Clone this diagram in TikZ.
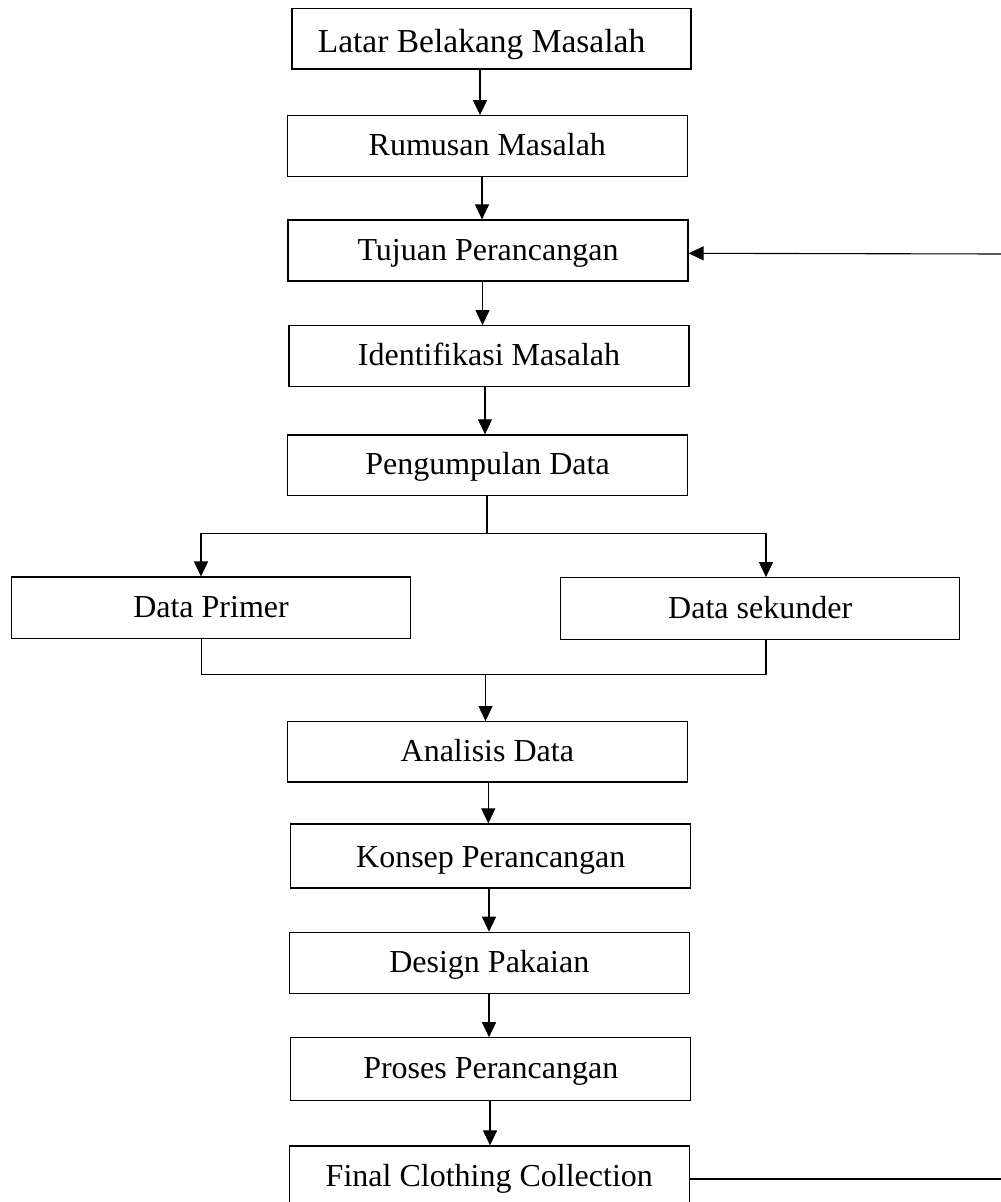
\documentclass[tikz,border=0pt]{standalone}
\usepackage{fontspec}
\setmainfont{Liberation Serif}
\usetikzlibrary{arrows.meta}
\begin{document}
\begin{tikzpicture}[x=1pt,y=-1pt,
  box/.style={draw=black, line width=1.2pt, rectangle, inner sep=0pt,
    minimum width=400pt, minimum height=61pt,
    font=\fontsize{32}{38}\selectfont, text height=27pt, text depth=8pt},
  conn/.style={draw=black, line width=1.1pt},
  arr/.style={conn, -{Triangle[length=15pt,width=14pt]}}]
\useasboundingbox (0,0) rectangle (1001,1202);

\node[box, minimum width=399pt, minimum height=60.7pt, font=\fontsize{33.5}{40}\selectfont, text height=36pt] (lat) at (491.5,38.7) {Latar Belakang Masalah\rule{20pt}{0pt}};
\node[box, minimum height=60.6pt] (rum) at (487.3,146) {Rumusan Masalah};
\node[box] (tuj) at (488,250.5) {Tujuan Perancangan};
\node[box] (ide) at (489,356.2) {Identifikasi Masalah};
\node[box, minimum height=60.7pt] (pen) at (487.5,465.3) {Pengumpulan Data};
\node[box, minimum width=399pt, minimum height=61.3pt] (pri) at (211,607.7) {Data Primer};
\node[box, minimum width=399pt, minimum height=61.6pt] (sek) at (760.2,608.5) {Data sekunder};
\node[box, minimum height=60.3pt] (ana) at (487.3,751.8) {Analisis Data};
\node[box, minimum height=64pt, text height=30pt] (kon) at (490.8,856) {Konsep Perancangan};
\node[box] (des) at (489.3,962.8) {Design Pakaian};
\node[box, minimum height=63pt] (pro) at (490.8,1069.3) {Proses Perancangan};
\node[box] (fin) at (489.3,1176.5) {Final Clothing Collection};

% main chain
\draw[arr] (lat.south -| 480,0) -- (rum.north -| 480,0);
\draw[arr] (rum.south -| 482,0) -- (tuj.north -| 482,0);
\draw[arr] (tuj.south -| 482.5,0) -- (ide.north -| 482.5,0);
\draw[arr] (ide.south -| 485,0) -- (pen.north -| 485,0);

% split
\coordinate (sp) at (487,533.3);
\draw[conn] (pen.south -| sp) -- (sp);
\draw[arr] (sp) -| (pri.north -| 201,0);
\draw[arr] (sp) -| (sek.north -| 766,0);

% merge
\coordinate (mg) at (485.5,674.3);
\draw[conn] (pri.south -| 201.7,0) |- (mg);
\draw[conn] (sek.south -| 766,0) |- (mg);
\draw[arr] (mg) -- (ana.north -| mg);

\draw[arr] (ana.south -| 488.3,0) -- (kon.north -| 488.3,0);
\draw[arr] (kon.south -| 489,0) -- (des.north -| 489,0);
\draw[arr] (des.south -| 489,0) -- (pro.north -| 489,0);
\draw[arr] (pro.south -| 490,0) -- (fin.north -| 490,0);

% feedback lines to right edge
\coordinate (fbb) at (1002,1179);
\coordinate (fbt) at (1002,254);
\draw[conn] (fin.east |- fbb) -- (fbb);
\draw[arr] (fbt) -- (tuj.east |- 0,253.3);
\end{tikzpicture}
\end{document}
